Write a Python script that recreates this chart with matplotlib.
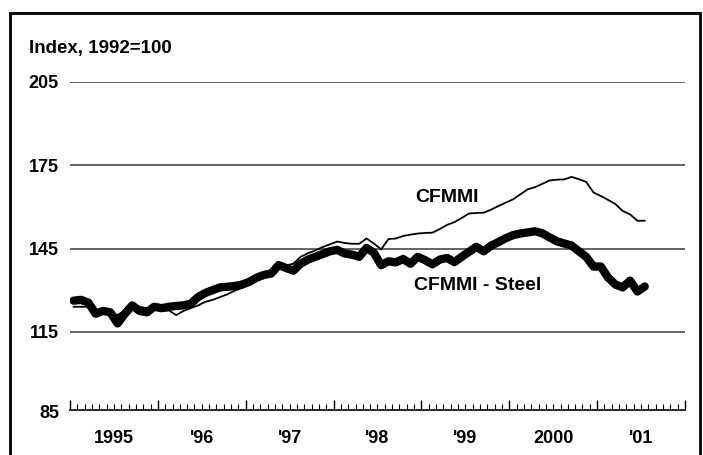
import numpy as np
import matplotlib.pyplot as plt
from matplotlib.patches import Rectangle

# monthly index, Jan 1995 .. Jul 2001
cfmmi = [124, 124, 124, 123, 122.5, 122, 121, 122.7, 124.2, 124, 123.5, 123.5,
         122.5, 122.7, 121, 122.5, 123.5, 124.5, 125.8, 126.5, 127.5, 128.5, 129.8, 130.8,
         132.2, 133.5, 134.5, 136, 138.9, 138.9, 139.5, 142, 143.3, 144.3, 145.5, 146.5,
         147.5, 147, 146.7, 146.7, 148.6, 146.8, 144.7, 148.4, 148.6, 149.5, 150, 150.4,
         150.6, 150.7, 152, 153.5, 154.5, 156, 157.6, 157.8, 157.9, 159, 160.3, 161.5,
         162.7, 164.5, 166.3, 167.1, 168.3, 169.5, 169.8, 169.9, 170.8, 170, 169, 165.2,
         163.9, 162.5, 161, 158.5, 157.3, 155, 155]
steel = [126.2, 126.5, 125.5, 121.5, 122.5, 122, 118, 121.5, 124.5, 122.5, 122, 124,
         123.5, 124, 124.3, 124.5, 125.1, 127.5, 129, 130, 131, 131.2, 131.5, 132,
         133, 134.5, 135.5, 136, 139, 138, 137, 139.5, 141, 142, 143, 144,
         144.5, 143.2, 142.8, 142, 145.2, 143.5, 139, 140.4, 140, 141.2, 139.5, 142,
         140.8, 139.3, 141, 141.6, 140.1, 142, 143.8, 145.6, 144, 146, 147.3, 148.7,
         149.8, 150.4, 150.8, 151.2, 150.5, 149, 147.6, 146.8, 146.1, 144, 142, 138.5,
         138.5, 134.5, 132, 131, 133.4, 129.5, 131.3]
years = [1995, 1996, 1997, 1998, 1999, 2000, 2001]
year_labels = ['1995', "'96", "'97", "'98", "'99", '2000', "'01"]
yticks = [85, 115, 145, 175, 205]

plt.rcParams['font.family'] = ['Liberation Sans', 'DejaVu Sans']

fig = plt.figure(figsize=(7.03, 4.55), dpi=100)
# outer frame
fig.patches.append(Rectangle((10/703, -0.1), 690/703, 1.1 - 13/455, transform=fig.transFigure,
                             fill=False, edgecolor='black', linewidth=2))

ax = fig.add_axes([70/703, 40/455, 615/703, 333/455])
t = 1995 + (np.arange(len(cfmmi)) + 0.5) / 12.0
ax.plot(t, cfmmi, color='black', lw=1.3, solid_joinstyle='miter')
ax.plot(t, steel, color='black', lw=6, solid_joinstyle='round', solid_capstyle='round')

ax.set_xlim(1995, 2002)
ax.set_ylim(85, 205)
for v in yticks[1:]:
    ax.axhline(v, color='#3a3a3a', lw=1.1, zorder=0)
for s in ['top', 'right', 'left']:
    ax.spines[s].set_visible(False)
ax.spines['bottom'].set_linewidth(1.2)
ax.spines['bottom'].set_position(('data', 86.8))

ax.set_yticks([86.3] + yticks[1:])
ax.set_yticklabels([str(v) for v in yticks], fontsize=13, fontweight='bold')
ax.tick_params(axis='y', length=0, pad=8)

ax.set_xticks(years + [2002])
ax.set_xticklabels([''] * 8)
ax.set_xticks(1995 + np.arange(85) / 12.0, minor=True)
ax.tick_params(axis='x', which='major', direction='in', length=7, width=1)
ax.tick_params(axis='x', which='minor', direction='in', length=4, width=0.8)
for y, lab in zip(years, year_labels):
    ax.text(y + 0.5, -0.045, lab, transform=ax.get_xaxis_transform(), ha='center', va='top',
            fontsize=13, fontweight='bold')

fig.text(29/703, 1 - 49/455, 'Index, 1992=100', fontsize=13.5, fontweight='bold', va='center')
ax.text(1999.29, 163.4, 'CFMMI', fontsize=14, fontweight='bold', ha='center', va='center')
ax.text(1999.64, 131.5, 'CFMMI - Steel', fontsize=14, fontweight='bold', ha='center', va='center')

fig.savefig('out.png', dpi=100)
